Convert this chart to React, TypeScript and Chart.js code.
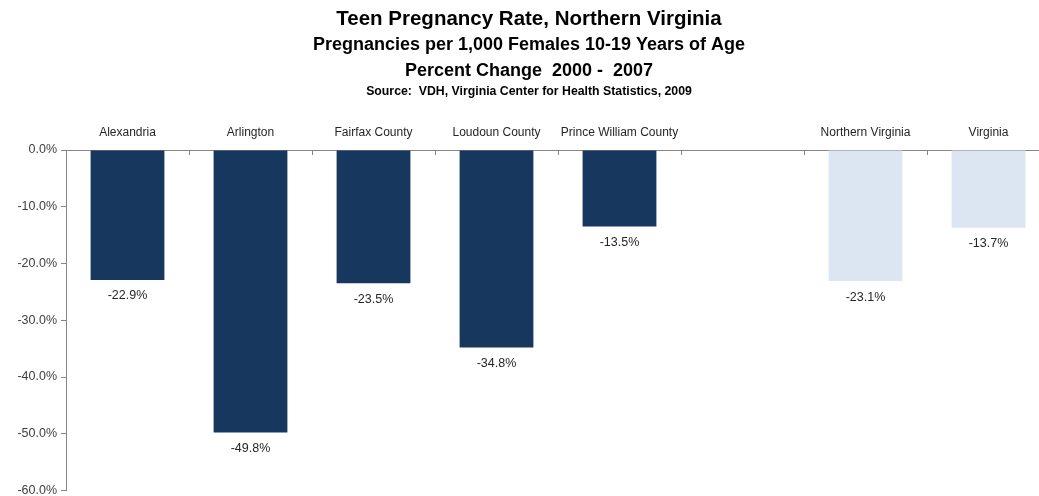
import React, { useEffect, useRef } from "react";
import { Chart, registerables } from "chart.js";

Chart.register(...registerables);

const categories = [
  "Alexandria",
  "Arlington",
  "Fairfax County",
  "Loudoun County",
  "Prince William County",
  "",
  "Northern Virginia",
  "Virginia",
];
const percentChange: (number | null)[] = [-22.9, -49.8, -23.5, -34.8, -13.5, null, -23.1, -13.7];
const DARK = "#17375E";
const LIGHT = "#DCE6F2";
const barColors = [DARK, DARK, DARK, DARK, DARK, DARK, LIGHT, LIGHT];
const titleLines = [
  "Teen Pregnancy Rate, Northern Virginia",
  "Pregnancies per 1,000 Females 10-19 Years of Age",
  "Percent Change  2000 -  2007",
  "Source:  VDH, Virginia Center for Health Statistics, 2009",
];
const yMin = -60;
const yMax = 0;
const yStep = 10;

const FONT = "'Liberation Sans', Arial, sans-serif";

const titlesPlugin = {
  id: "titlesPlugin",
  afterDraw(chart: any) {
    const ctx = chart.ctx;
    const cx = 529;
    const styles = [
      { font: `bold 20.5px ${FONT}`, y: 19 },
      { font: `bold 18px ${FONT}`, y: 45 },
      { font: `bold 18px ${FONT}`, y: 71 },
      { font: `bold 12.3px ${FONT}`, y: 92 },
    ];
    ctx.save();
    ctx.fillStyle = "#000000";
    ctx.textAlign = "center";
    ctx.textBaseline = "middle";
    titleLines.forEach((t, i) => {
      ctx.font = styles[i].font;
      ctx.fillText(t, cx, styles[i].y);
    });
    ctx.restore();
  },
};

const catTicksPlugin = {
  id: "catTicksPlugin",
  afterDraw(chart: any) {
    const x = chart.scales.x;
    const ctx = chart.ctx;
    const n = categories.length;
    const slot = x.width / n;
    const top = chart.chartArea.top;
    ctx.save();
    ctx.strokeStyle = "#868686";
    ctx.lineWidth = 1;
    for (let i = 1; i < n; i++) {
      const px = Math.round(x.left + i * slot) + 0.5;
      ctx.beginPath();
      ctx.moveTo(px, top);
      ctx.lineTo(px, top + 5);
      ctx.stroke();
    }
    ctx.restore();
  },
};

const barLabelsPlugin = {
  id: "barLabelsPlugin",
  afterDatasetsDraw(chart: any) {
    const ctx = chart.ctx;
    const meta = chart.getDatasetMeta(0);
    ctx.save();
    ctx.fillStyle = "#262626";
    ctx.font = `12.5px ${FONT}`;
    ctx.textAlign = "center";
    ctx.textBaseline = "middle";
    meta.data.forEach((bar: any, i: number) => {
      const v = percentChange[i];
      if (v === null || v === undefined) return;
      ctx.fillText(v.toFixed(1) + "%", bar.x, bar.y + 16);
    });
    ctx.restore();
  },
};

export default function App() {
  const ref = useRef<HTMLCanvasElement | null>(null);

  useEffect(() => {
    if (!ref.current) return;
    const chart = new Chart(ref.current, {
      type: "bar",
      data: {
        labels: categories,
        datasets: [
          {
            data: percentChange,
            backgroundColor: barColors,
            borderWidth: 0,
            categoryPercentage: 1,
            barPercentage: 0.6,
          },
        ],
      },
      options: {
        animation: false,
        responsive: false,
        maintainAspectRatio: false,
        layout: { padding: { top: 110, right: 8, bottom: 8, left: 0 } },
        plugins: {
          legend: { display: false },
          tooltip: { enabled: false },
          title: { display: false },
        },
        scales: {
          x: {
            position: "top",
            grid: { display: false, drawTicks: false },
            border: { display: true, color: "#868686", width: 1 },
            ticks: {
              color: "#262626",
              font: { family: FONT, size: 12 },
              padding: 10,
              maxRotation: 0,
              autoSkip: false,
            },
            afterFit(scale: any) {
              scale.height = 40;
            },
          },
          y: {
            min: yMin,
            max: yMax,
            grid: {
              display: true,
              drawOnChartArea: false,
              drawTicks: true,
              tickLength: 5,
              color: "#868686",
            },
            border: { display: true, color: "#868686", width: 1 },
            ticks: {
              stepSize: yStep,
              color: "#404040",
              font: { family: FONT, size: 12.5 },
              padding: 4,
              callback: (v: any) => Number(v).toFixed(1) + "%",
            },
            afterFit(scale: any) {
              scale.width = 66;
            },
          },
        },
      },
      plugins: [titlesPlugin, catTicksPlugin, barLabelsPlugin],
    });
    return () => chart.destroy();
  }, []);

  return (
    <div
      style={{
        position: "absolute",
        left: 0,
        top: 0,
        width: 1039,
        height: 496,
        overflow: "hidden",
        background: "#ffffff",
      }}
    >
      <canvas ref={ref} width={1058} height={502} style={{ width: 1058, height: 502, display: "block" }} />
    </div>
  );
}
